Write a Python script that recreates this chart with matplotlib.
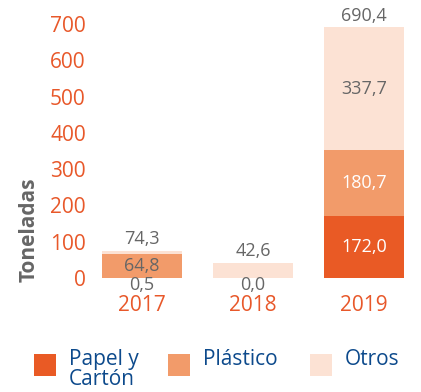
import numpy as np
import matplotlib
matplotlib.use("Agg")
import matplotlib.pyplot as plt
from matplotlib.patches import Rectangle

plt.rcParams["font.family"] = ["Open Sans", "DejaVu Sans"]

years = ["2017", "2018", "2019"]
series_names = ["Papel y\nCartón", "Plástico", "Otros"]
papel = [0.5, 0.0, 172.0]
plastico = [64.8, 0.0, 180.7]
otros = [9.0, 42.6, 337.7]
totals = [74.3, 42.6, 690.4]

# which segments get a value label
papel_label = [True, True, True]
plastico_label = [True, False, True]
otros_label = [False, False, True]

colors = ["#E95A25", "#F29B6A", "#FCE2D4"]
orange = "#E8582A"
grey = "#666666"
blue = "#0D4A8C"


def fmt(v):
    return f"{v:.1f}".replace(".", ",")


fig = plt.figure(figsize=(4.21, 3.92), dpi=100)
ax = fig.add_axes([90 / 421, (392 - 278) / 392, 326 / 421, 254 / 392])

x = np.arange(len(years))
width = 0.72
bottom = np.zeros(len(years))
layers = [(papel, papel_label), (plastico, plastico_label), (otros, otros_label)]
for i, (vals, show) in enumerate(layers):
    vals = np.array(vals)
    ax.bar(x, vals, width, bottom=bottom, color=colors[i], linewidth=0)
    for j in range(len(years)):
        if not show[j]:
            continue
        txt_color = "white" if (i < 2 and vals[j] > 100) else grey
        # tiny segments: push the label a little under the base
        dy = -5 if vals[j] < 20 else 0
        ax.annotate(fmt(vals[j]), (x[j], bottom[j] + vals[j] / 2),
                    xytext=(0, dy), textcoords="offset points", ha="center",
                    va="center", fontsize=13, color=txt_color,
                    annotation_clip=False)
    bottom += vals

for j in range(len(years)):
    ax.annotate(fmt(totals[j]), (x[j], totals[j]), xytext=(0, 2),
                textcoords="offset points", ha="center", va="bottom",
                fontsize=13, color=grey, annotation_clip=False)

ax.set_xlim(-0.47, 2.47)
ax.set_ylim(0, 700)
ax.set_yticks(np.arange(0, 701, 100))
ax.set_xticks(x)
ax.set_xticklabels(years)
ax.tick_params(axis="y", length=0, pad=3, labelsize=15, labelcolor=orange)
ax.tick_params(axis="x", length=0, pad=12, labelsize=15, labelcolor=orange)
for s in ax.spines.values():
    s.set_visible(False)

ax.set_ylabel("Toneladas", fontsize=15, fontweight="bold", color=grey)
ax.yaxis.set_label_coords(-0.155, 0.19)

# legend drawn by hand so the square lines up with the first text line
leg_x = [34, 168, 310]
for i, name in enumerate(series_names):
    fig.patches.append(Rectangle((leg_x[i] / 421, (392 - 376) / 392), 22 / 421,
                                 22 / 392, transform=fig.transFigure,
                                 color=colors[i], linewidth=0))
    fig.text((leg_x[i] + 35) / 421, (392 - 349) / 392, name, ha="left",
             va="top", fontsize=15, color=blue, linespacing=0.95)

fig.savefig("out.png", dpi=100)
